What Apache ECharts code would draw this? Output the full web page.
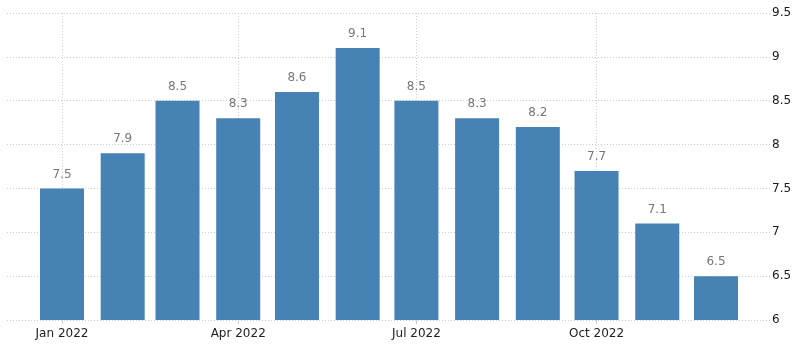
<!DOCTYPE html>
<html>
<head>
<meta charset="utf-8">
<script src="https://cdn.jsdelivr.net/npm/echarts@6/dist/echarts.min.js"></script>
<style>
  html, body { margin: 0; padding: 0; background: #fff; }
  #chart { width: 800px; height: 349px; }
</style>
</head>
<body>
<div id="chart"></div>
<script>
// Monthly readings for 2022 (one bar per month, placed on the 1st)
const months = ['2022-01', '2022-02', '2022-03', '2022-04', '2022-05', '2022-06',
                '2022-07', '2022-08', '2022-09', '2022-10', '2022-11', '2022-12'];
const values = [7.5, 7.9, 8.5, 8.3, 8.6, 9.1, 8.5, 8.3, 8.2, 7.7, 7.1, 6.5];
const quarterTicks = ['2022-01', '2022-04', '2022-07', '2022-10'];
const monthNames = ['Jan', 'Feb', 'Mar', 'Apr', 'May', 'Jun', 'Jul', 'Aug', 'Sep', 'Oct', 'Nov', 'Dec'];
const yTicks = { min: 6, max: 9.5, step: 0.5 };

function toUTC(ym) {
  const [y, m] = ym.split('-').map(Number);
  return Date.UTC(y, m - 1, 1);
}

const seriesData = months.map((m, i) => [toUTC(m), values[i]]);
const tickValues = quarterTicks.map(toUTC);
// Time range shown: early December 2021 to late December 2022
const xMin = Date.UTC(2021, 11, 3, 22);
const xMax = Date.UTC(2022, 11, 28, 14);

const font = 'DejaVu Sans';
const chart = echarts.init(document.getElementById('chart'));
chart.setOption({
  animation: false,
  grid: { left: 7, right: 30, top: 13, bottom: 29, containLabel: false },
  xAxis: {
    type: 'value',
    min: xMin,
    max: xMax,
    axisLine: { show: false },
    axisTick: { show: true, length: 4, customValues: tickValues, lineStyle: { color: '#cccccc' } },
    axisLabel: {
      show: true,
      customValues: tickValues,
      margin: 8,
      color: '#222222',
      fontFamily: font,
      fontSize: 12,
      formatter: function (v) {
        const d = new Date(v);
        return monthNames[d.getUTCMonth()] + ' ' + d.getUTCFullYear();
      }
    },
    splitLine: { show: true, lineStyle: { color: '#cccccc', type: [1, 2] } }
  },
  yAxis: {
    type: 'value',
    position: 'right',
    min: yTicks.min,
    max: yTicks.max,
    interval: yTicks.step,
    axisLine: { show: false },
    axisTick: { show: false },
    axisLabel: {
      margin: 2,
      color: '#1a1a1a',
      fontFamily: font,
      fontSize: 12,
      formatter: v => String(v)
    },
    splitLine: { show: true, lineStyle: { color: '#cccccc', type: [1, 2] } }
  },
  series: [{
    type: 'bar',
    data: seriesData,
    barWidth: 44,
    itemStyle: { color: '#4682b4' },
    label: {
      show: true,
      position: 'top',
      distance: 8,
      color: '#777777',
      fontFamily: font,
      fontSize: 12,
      formatter: p => String(p.value[1])
    }
  }]
});
</script>
</body>
</html>
